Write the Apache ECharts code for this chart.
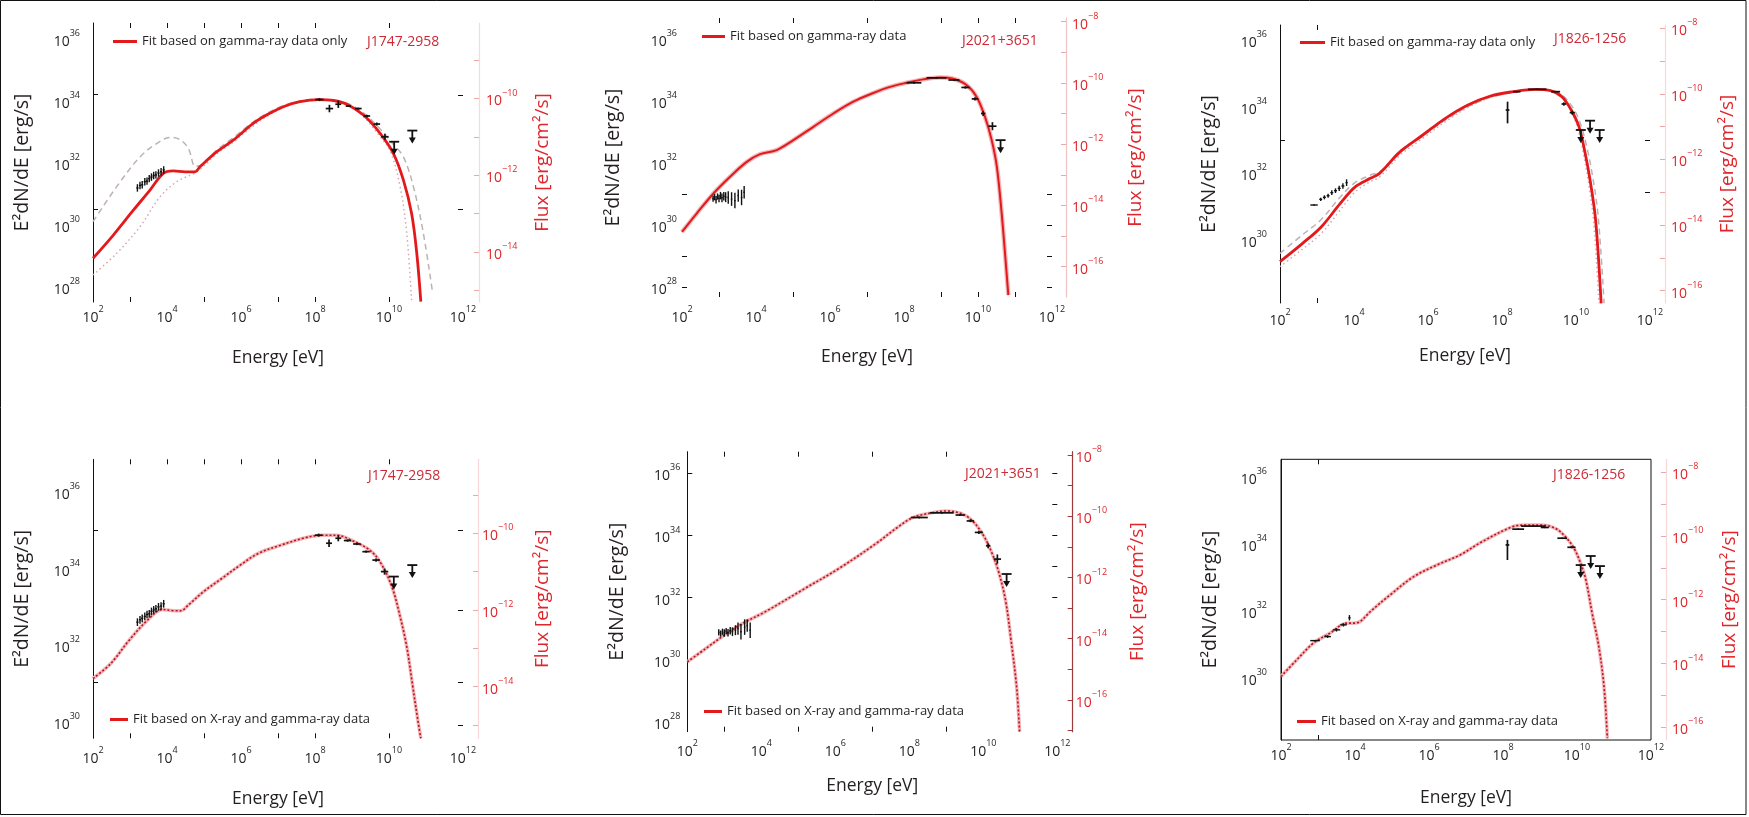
<!DOCTYPE html>
<html>
<head>
<meta charset="utf-8">
<script src="https://cdn.jsdelivr.net/npm/echarts@6/dist/echarts.min.js"></script>
<style>html,body{margin:0;padding:0;background:#fff}#c{width:1749px;height:817px}</style>
</head>
<body>
<div id="c"></div>
<script>
// ================= DATA (all values are log10 of the quantity) =================
const xTickExps = [2, 4, 6, 8, 10, 12];           // Energy [eV] tick labels 10^n
const lumTickExps = [28, 30, 32, 34, 36];        // E^2dN/dE [erg/s] tick labels 10^n
const fluxTickExps = [-16, -14, -12, -10, -8];   // Flux [erg/cm^2/s] tick labels 10^n
const sourceNames = ['J1747-2958', 'J2021+3651', 'J1826-1256', 'J1747-2958', 'J2021+3651', 'J1826-1256'];
const fitLabels = ['Fit based on gamma-ray data only', 'Fit based on gamma-ray data', 'Fit based on gamma-ray data only',
                   'Fit based on X-ray and gamma-ray data', 'Fit based on X-ray and gamma-ray data', 'Fit based on X-ray and gamma-ray data'];

// ---- Top-left: J1747-2958, gamma-ray only fit ----  [logE, logL]
const tlFit = [[2,28.93],[2.55,29.68],[3.09,30.48],[3.54,31.13],[3.9,31.67],[4.17,31.75],[4.49,31.72],[4.76,31.72],[4.89,31.88],[5.34,32.36],[5.79,32.74],[6.33,33.28],[6.69,33.55],[7.14,33.82],[7.59,33.98],[8.09,34.05],[8.5,34.02],[8.86,33.9],[9.31,33.55],[9.76,32.96],[10.12,32.31],[10.39,31.45],[10.61,30.38],[10.75,29.1],[10.86,27.53]];
const tlDash = [[2,30.11],[2.64,31.24],[3.27,32.2],[3.72,32.63],[4.08,32.83],[4.35,32.76],[4.58,32.47],[4.76,31.9],[4.89,31.92],[5.34,32.42],[5.79,32.82],[6.33,33.33],[6.69,33.6],[7.14,33.85],[7.59,34.0],[8.09,34.06],[8.86,33.93],[9.31,33.62],[9.76,33.1],[10.12,32.6],[10.39,32.2],[10.66,31.24],[10.93,29.73],[11.18,27.8]];
const tlDot = [[2,28.39],[2.64,29.09],[3.27,29.95],[3.81,30.91],[4.26,31.4],[4.8,31.72],[5.34,32.3],[5.79,32.68],[6.33,33.2],[6.69,33.5],[7.14,33.78],[7.59,33.96],[8.09,34.04],[8.86,33.88],[9.31,33.5],[9.76,32.85],[10.03,32.4],[10.3,31.24],[10.48,29.73],[10.61,27.58]];
// X-ray points [logE, logL, dlogE, dlogL]
const tlXray = [[3.2,31.2,0.03,0.12],[3.27,31.28,0.03,0.12],[3.33,31.3,0.03,0.12],[3.4,31.4,0.03,0.12],[3.46,31.42,0.03,0.12],[3.52,31.5,0.03,0.12],[3.58,31.55,0.03,0.12],[3.64,31.6,0.03,0.12],[3.7,31.62,0.03,0.12],[3.77,31.68,0.03,0.12],[3.84,31.72,0.03,0.12],[3.91,31.78,0.03,0.12]];
// gamma-ray points [logE, logL, dlogE, dlogL up, dlogL down]
const tlGamma = [[8.12,34.05,0.11,0.05,0.05],[8.39,33.76,0.1,0.12,0.12],[8.63,33.9,0.08,0.12,0.12],[8.9,33.84,0.07,0.03,0.03],[9.17,33.76,0.09,0.03,0.03],[9.4,33.52,0.09,0.04,0.04],[9.67,33.26,0.09,0.05,0.05],[9.89,32.85,0.1,0.1,0.1]];
const tlUL = [[10.14,32.69],[10.63,33.05]];   // upper limits [logE, logL]

// ---- Top-middle: J2021+3651, gamma-ray fit ----
const tmFit = [[2,29.78],[2.4,30.38],[2.85,31.02],[3.3,31.56],[3.75,32.04],[4.11,32.29],[4.56,32.42],[5.01,32.74],[5.55,33.17],[6.09,33.6],[6.63,33.98],[7.17,34.26],[7.6,34.45],[8.07,34.59],[8.52,34.7],[8.97,34.76],[9.33,34.72],[9.69,34.52],[9.96,34.14],[10.19,33.49],[10.37,32.74],[10.51,31.88],[10.64,30.38],[10.73,29.09],[10.82,27.74]];
const tmXray = [[2.84,30.85,0.02,0.1],[2.88,30.9,0.02,0.1],[2.92,30.82,0.02,0.12],[2.96,30.92,0.02,0.1],[3.0,30.86,0.02,0.12],[3.04,30.95,0.02,0.12],[3.08,30.88,0.02,0.14],[3.13,30.93,0.02,0.14],[3.18,30.9,0.02,0.16],[3.25,30.89,0.02,0.2],[3.34,30.84,0.02,0.22],[3.43,30.79,0.02,0.25],[3.52,30.95,0.02,0.2],[3.61,30.89,0.02,0.25],[3.68,31.06,0.02,0.2]];
const tmGamma = [[8.27,34.59,0.2,0.03,0.03],[8.88,34.75,0.27,0.03,0.03],[9.35,34.68,0.15,0.03,0.03],[9.66,34.44,0.11,0.04,0.04],[9.92,34.07,0.09,0.05,0.05],[10.14,33.6,0.06,0.08,0.08],[10.39,33.19,0.11,0.13,0.13]];
const tmUL = [[10.61,32.74]];

// ---- Top-right: J1826-1256, gamma-ray only fit ----
const trFit = [[2,29.35],[2.61,29.9],[3.12,30.4],[3.63,31.1],[4.04,31.6],[4.44,31.85],[4.69,32.0],[5.25,32.65],[5.86,33.15],[6.47,33.65],[7.08,34.05],[7.69,34.32],[8.3,34.45],[8.91,34.52],[9.31,34.48],[9.62,34.3],[9.87,33.9],[10.08,33.4],[10.23,32.7],[10.38,31.8],[10.53,30.6],[10.68,28.1]];
const trDash = [[2,29.6],[2.6,30.15],[3.1,30.6],[3.6,31.25],[4.0,31.7],[4.45,31.95],[4.7,32.05],[5.25,32.68],[5.86,33.12],[6.47,33.6],[7.08,34.0],[7.69,34.28],[8.3,34.43],[8.91,34.52],[9.31,34.5],[9.62,34.35],[9.9,34.0],[10.1,33.55],[10.28,32.85],[10.45,31.9],[10.6,30.7],[10.76,28.1]];
const trDot = [[2,29.2],[2.6,29.72],[3.12,30.2],[3.63,30.9],[4.04,31.45],[4.44,31.75],[4.7,31.9],[5.25,32.55],[5.86,33.05],[6.47,33.55],[7.08,33.98],[7.69,34.28],[8.3,34.44],[8.91,34.52],[9.31,34.47],[9.62,34.28],[9.87,33.86],[10.06,33.3],[10.2,32.6],[10.34,31.7],[10.48,30.5],[10.62,28.1]];
const trXray = [[2.92,31.05,0.1,0.02],[3.1,31.22,0.04,0.05],[3.2,31.28,0.04,0.06],[3.3,31.33,0.04,0.06],[3.4,31.42,0.04,0.07],[3.5,31.48,0.04,0.07],[3.6,31.55,0.04,0.08],[3.7,31.62,0.04,0.08],[3.8,31.72,0.03,0.1]];
const trGamma = [[8.15,33.9,0.05,0.25,0.4],[8.4,34.45,0.1,0.02,0.02],[8.95,34.52,0.25,0.02,0.02],[9.45,34.45,0.12,0.02,0.02],[9.67,34.08,0.06,0.05,0.05],[9.9,33.82,0.07,0.06,0.06]];
const trUL = [[10.13,33.3],[10.38,33.58],[10.64,33.3]];

// ---- Bottom-left: J1747-2958, X-ray + gamma-ray fit ----
const blFit = [[2,31.13],[2.48,31.52],[2.98,32.13],[3.48,32.66],[3.88,32.93],[4.18,32.9],[4.38,32.9],[4.58,33.05],[4.98,33.39],[5.48,33.74],[5.98,34.09],[6.48,34.4],[7.08,34.61],[7.68,34.79],[8.18,34.87],[8.58,34.87],[8.98,34.74],[9.48,34.48],[9.78,34.14],[10.08,33.52],[10.28,32.83],[10.48,31.96],[10.63,31.0],[10.78,30.04],[10.86,29.57]];
const blXray = [[3.2,32.6,0.03,0.1],[3.27,32.66,0.03,0.1],[3.33,32.7,0.03,0.1],[3.4,32.75,0.03,0.1],[3.46,32.8,0.03,0.1],[3.52,32.82,0.03,0.1],[3.58,32.88,0.03,0.1],[3.64,32.92,0.03,0.1],[3.7,32.95,0.03,0.1],[3.77,33.0,0.03,0.1],[3.84,33.02,0.03,0.1],[3.91,33.08,0.03,0.1]];
const blGamma = [[8.1,34.87,0.1,0.04,0.04],[8.38,34.66,0.08,0.1,0.1],[8.63,34.79,0.08,0.08,0.08],[8.88,34.73,0.1,0.03,0.03],[9.13,34.64,0.1,0.03,0.03],[9.38,34.44,0.1,0.03,0.03],[9.65,34.22,0.1,0.04,0.04],[9.88,33.92,0.1,0.08,0.08]];
const blUL = [[10.13,33.79],[10.63,34.09]];

// ---- Bottom-middle: J2021+3651, X-ray + gamma-ray fit ----
const bmFit = [[2,29.93],[2.5,30.36],[3.0,30.79],[3.5,31.17],[4.1,31.54],[5.1,32.24],[6.1,32.94],[7.1,33.74],[7.7,34.28],[8.1,34.58],[8.6,34.73],[9.0,34.79],[9.4,34.71],[9.7,34.48],[10.0,34.01],[10.2,33.53],[10.4,32.89],[10.6,31.92],[10.75,30.63],[10.9,29.13],[10.98,27.68]];
const bmXray = [[2.85,30.88,0.02,0.1],[2.9,30.84,0.02,0.1],[2.95,30.9,0.02,0.1],[3.0,30.86,0.02,0.12],[3.05,30.92,0.02,0.1],[3.1,30.87,0.02,0.12],[3.16,30.93,0.02,0.12],[3.22,30.9,0.02,0.14],[3.3,30.95,0.02,0.16],[3.37,31.0,0.02,0.2],[3.45,30.9,0.02,0.25],[3.55,31.05,0.02,0.25],[3.62,31.1,0.02,0.2],[3.7,30.95,0.02,0.25]];
const bmGamma = [[8.27,34.58,0.23,0.03,0.03],[8.88,34.73,0.32,0.03,0.03],[9.37,34.66,0.12,0.03,0.03],[9.65,34.47,0.1,0.04,0.04],[9.88,34.1,0.11,0.05,0.05],[10.13,33.67,0.06,0.08,0.08],[10.38,33.24,0.1,0.15,0.15]];
const bmUL = [[10.63,32.76]];

// ---- Bottom-right: J1826-1256, X-ray + gamma-ray fit ----
const brFit = [[2,30.05],[2.42,30.54],[2.87,31.04],[3.32,31.34],[3.78,31.64],[3.95,31.64],[4.14,31.69],[4.41,31.98],[4.95,32.48],[5.58,33.02],[6.21,33.37],[6.84,33.67],[7.41,34.05],[8.25,34.51],[8.61,34.56],[9.06,34.56],[9.42,34.46],[9.69,34.21],[9.92,33.87],[10.1,33.42],[10.24,32.93],[10.41,31.93],[10.59,30.94],[10.73,29.75],[10.82,28.21]];
const brXray = [[2.92,31.12,0.13,0.02],[3.26,31.24,0.09,0.04],[3.5,31.44,0.1,0.05],[3.69,31.59,0.09,0.05],[3.85,31.8,0.03,0.08]];
const brGamma = [[8.12,33.97,0.05,0.15,0.45],[8.41,34.44,0.16,0.02,0.02],[8.82,34.53,0.33,0.02,0.02],[9.13,34.49,0.11,0.02,0.02],[9.6,34.17,0.13,0.02,0.02],[9.85,33.9,0.11,0.03,0.03]];
const brUL = [[10.1,33.37],[10.37,33.64],[10.62,33.34]];

// ================= LAYOUT / STYLE (kept apart from the data) =================
const FONT = '"Open Sans", Lato, sans-serif';
const BLACK = '#231f20', RED = '#e3191c', REDTXT = '#e0252b', SRCRED = '#cc2a36';
const layout = [
  {left:93, top:23, width:370, height:279, yL:[27.52,36.52], yR:[-15.31,-8.03], rOff:16, leftLine:true, rLine:'#f8d8d8', rTick:'#e9a9ab',
   xLM:3, yLM:13, rLM:7, xNG:47, yNG:61, rNG:54, topT:[3,4,5,6,7,8,10], botT:[3,5,7,8,10], leftT:[34.23,30.52], mirT:[34.2,30.5],
   lg:{left:113, top:35, w:24}, src:{left:367, top:35}, row:'top', fit:tlFit, dash:tlDash, dot:tlDot, xr:tlXray, ga:tlGamma, ul:tlUL},
  {left:682, top:18, width:370, height:279, yL:[27.68,36.68], yR:[-16.99,-7.88], rOff:14, leftLine:false, rLine:'#efc4c4', rTick:'#e9a9ab',
   xLM:8, yLM:5, rLM:6, xNG:51, yNG:59, rNG:60, topT:[3,5,7,9,10,11], botT:[3,5,7,9,10,11], leftT:[28,29,31], mirT:[28,29,30,31],
   lg:{left:702, top:30, w:23}, src:{left:962, top:34}, row:'mid', fit:tmFit, xr:tmXray, ga:tmGamma, ul:tmUL},
  {left:1280, top:25, width:370, height:278, yL:[28.11,36.45], yR:[-16.38,-7.9], rOff:15, leftLine:true, rLine:'#f8d8d8', rTick:'#e9a9ab',
   xLM:5, yLM:13, rLM:6, xNG:44, yNG:61, rNG:53, topT:[3], botT:[3], leftT:[33.0], mirT:[33.0,31.44],
   lg:{left:1300, top:36, w:25}, src:{left:1554, top:32}, row:'top', fit:trFit, dash:trDash, dot:trDot, xr:trXray, ga:trGamma, ul:trUL},
  {left:93, top:459.3, width:370, height:279, yL:[29.57,36.85], yR:[-15.35,-8.07], rOff:15, leftLine:true, rLine:'#f8d8d8', rTick:'#e9a9ab',
   xLM:8, yLM:13, rLM:4, xNG:52, yNG:61, rNG:55, topT:[3,4,5,6,7,8,10], botT:[3,5,7,8,10], leftT:[35.0,31.02], mirT:[35.0,32.92,31.02,29.91],
   lg:{left:110, top:713, w:18}, src:{left:368, top:469}, row:'bottom', fit:blFit, xr:blXray, ga:blGamma, ul:blUL},
  {left:687.3, top:451.7, width:370, height:280, yL:[27.68,36.7], yR:[-17.04,-7.89], rOff:15.4, leftLine:true, rLine:'#9e3a3a', rTick:'#9e3a3a',
   xLM:7, yLM:7, rLM:3, xNG:45, yNG:60, rNG:55, topT:[3,5,7,9], botT:[3,5,7,9], leftT:[32,34,36], mirT:[32,33,34,35,36],
   lg:{left:704, top:705, w:18}, src:{left:965, top:467}, row:'bottom', fit:bmFit, xr:bmXray, ga:bmGamma, ul:bmUL},
  {left:1281, top:459.3, width:370, height:280.7, yL:[28.16,36.52], yR:[-16.4,-7.6], rOff:15, leftLine:true, box:true, rLine:'#f8d8d8', rTick:'#e9a9ab',
   xLM:3, yLM:14, rLM:6, xNG:49, yNG:61, rNG:54, topT:[3], botT:[3], leftT:[], mirT:[],
   lg:{left:1297, top:715, w:19}, src:{left:1553, top:468}, row:'bottom', fit:brFit, xr:brXray, ga:brGamma, ul:brUL}
];

function powFmt(allowed) {
  return function (v) {
    const e = Math.round(v);
    if (Math.abs(v - e) > 1e-6 || allowed.indexOf(e) < 0) return '';
    return '{b|10}{s|' + (e < 0 ? '\u2212' + (-e) : e) + '}';
  };
}
function richFor(color, size) {
  return {
    b: {fontSize: size, lineHeight: 20, color: color, fontFamily: FONT, verticalAlign: 'bottom'},
    s: {fontSize: Math.round(size * 0.62), lineHeight: 11, color: color, fontFamily: FONT, verticalAlign: 'top'}
  };
}
function within(list, r) { return list.filter(v => v >= r[0] && v <= r[1]); }
function decades(r) { const a = []; for (let v = Math.ceil(r[0]); v <= Math.floor(r[1]); v++) a.push(v); return a; }

function xrayRender(params, api) {
  const E = api.value(0), L = api.value(1), dE = api.value(2), dL = api.value(3);
  const l = api.coord([E - dE, L]), r = api.coord([E + dE, L]);
  const t = api.coord([E, L + dL]), b = api.coord([E, L - dL]);
  const st = {stroke: '#111', lineWidth: 1.4};
  return {type: 'group', children: [
    {type: 'line', shape: {x1: l[0], y1: l[1], x2: r[0], y2: r[1]}, style: st},
    {type: 'line', shape: {x1: t[0], y1: t[1], x2: b[0], y2: b[1]}, style: st}
  ]};
}
function gammaRender(params, api) {
  const E = api.value(0), L = api.value(1), dE = api.value(2), up = api.value(3), dn = api.value(4);
  const l = api.coord([E - dE, L]), r = api.coord([E + dE, L]);
  const t = api.coord([E, L + up]), b = api.coord([E, L - dn]);
  const st = {stroke: '#111', lineWidth: 1.7};
  return {type: 'group', children: [
    {type: 'line', shape: {x1: l[0], y1: l[1], x2: r[0], y2: r[1]}, style: st},
    {type: 'line', shape: {x1: t[0], y1: t[1], x2: b[0], y2: b[1]}, style: st}
  ]};
}
function ulRender(params, api) {
  const c = api.coord([api.value(0), api.value(1)]);
  const w = 5, len = 11;
  const st = {stroke: '#111', lineWidth: 1.8};
  return {type: 'group', children: [
    {type: 'line', shape: {x1: c[0] - w, y1: c[1], x2: c[0] + w, y2: c[1]}, style: st},
    {type: 'line', shape: {x1: c[0], y1: c[1], x2: c[0], y2: c[1] + len}, style: st},
    {type: 'polygon', shape: {points: [[c[0] - 3.5, c[1] + len - 4], [c[0] + 3.5, c[1] + len - 4], [c[0], c[1] + len + 2]]}, style: {fill: '#111'}}
  ]};
}

const option = {
  animation: false,
  backgroundColor: '#ffffff',
  textStyle: {fontFamily: FONT},
  grid: [], xAxis: [], yAxis: [], series: [], legend: [], title: [],
  graphic: [{type: 'rect', shape: {x: 0.5, y: 0.5, width: 1745.5, height: 814}, style: {fill: 'none', stroke: '#111', lineWidth: 1}, silent: true}]
};

const Y_PER_GRID = 5;   // left labels, right flux, mirror ticks, left ticks, right flux ticks
layout.forEach(function (p, i) {
  option.grid.push({left: p.left, top: p.top, width: p.width, height: p.height, containLabel: false, outerBoundsMode: 'none',
    show: !!p.box, borderColor: '#111', borderWidth: p.box ? 1 : 0, backgroundColor: 'transparent'});

  option.xAxis.push({gridIndex: i, type: 'value', min: 2, max: 12, position: 'bottom',
    axisLine: {show: false, onZero: false}, splitLine: {show: false},
    axisTick: {show: true, inside: true, length: 5, customValues: p.botT, lineStyle: {color: '#111'}},
    axisLabel: {customValues: xTickExps, formatter: powFmt(xTickExps), rich: richFor(BLACK, 14), margin: p.xLM,
      hideOverlap: false, align: 'center', verticalAlign: 'top'},
    name: 'Energy [eV]', nameLocation: 'middle', nameGap: p.xNG, nameMoveOverlap: false,
    nameTextStyle: {fontSize: 17.5, color: BLACK, fontFamily: FONT}});
  option.xAxis.push({gridIndex: i, type: 'value', min: 2, max: 12, position: 'top',
    axisLine: {show: false, onZero: false}, splitLine: {show: false}, axisLabel: {show: false},
    axisTick: {show: true, inside: true, length: 5, customValues: p.topT, lineStyle: {color: '#111'}}});

  // 0: left luminosity axis (line, labels, name)
  option.yAxis.push({gridIndex: i, type: 'value', min: p.yL[0], max: p.yL[1], position: 'left',
    axisLine: {show: p.leftLine, onZero: false, lineStyle: {color: '#111', width: 1}}, splitLine: {show: false},
    axisTick: {show: false},
    axisLabel: {customValues: within(lumTickExps, p.yL), formatter: powFmt(lumTickExps), rich: richFor(BLACK, 14), margin: p.yLM,
      hideOverlap: false, align: 'right', verticalAlign: 'middle', showMaxLabel: true, showMinLabel: true},
    name: 'E\u00b2dN/dE [erg/s]', nameLocation: 'middle', nameGap: p.yNG, nameRotate: 90, nameMoveOverlap: false,
    nameTextStyle: {fontSize: 19.5, color: BLACK, fontFamily: FONT}});
  // 1: right flux axis (line, labels, name)
  option.yAxis.push({gridIndex: i, type: 'value', min: p.yR[0], max: p.yR[1], position: 'right', offset: p.rOff,
    axisLine: {show: true, onZero: false, lineStyle: {color: p.rLine, width: 1.2}}, splitLine: {show: false},
    axisTick: {show: false},
    axisLabel: {customValues: within(fluxTickExps, p.yR), formatter: powFmt(fluxTickExps), rich: richFor(REDTXT, 14), margin: p.rLM,
      hideOverlap: false, align: 'left', verticalAlign: 'middle', showMaxLabel: true, showMinLabel: true},
    name: 'Flux [erg/cm\u00b2/s]', nameLocation: 'middle', nameGap: p.rNG, nameRotate: 90, nameMoveOverlap: false,
    nameTextStyle: {fontSize: 19, color: REDTXT, fontFamily: FONT}});
  // 2: mirrored luminosity ticks on the right edge of the frame
  option.yAxis.push({gridIndex: i, type: 'value', min: p.yL[0], max: p.yL[1], position: 'right', offset: 0,
    axisLine: {show: false, onZero: false}, splitLine: {show: false}, axisLabel: {show: false},
    axisTick: {show: p.mirT.length > 0, inside: true, length: 5, customValues: p.mirT, lineStyle: {color: '#111'}}});
  // 3: luminosity ticks on the left edge
  option.yAxis.push({gridIndex: i, type: 'value', min: p.yL[0], max: p.yL[1], position: 'left', offset: 0,
    axisLine: {show: false, onZero: false}, splitLine: {show: false}, axisLabel: {show: false},
    axisTick: {show: p.leftT.length > 0, inside: true, length: 5, customValues: p.leftT, lineStyle: {color: '#111'}}});
  // 4: flux ticks (every decade)
  option.yAxis.push({gridIndex: i, type: 'value', min: p.yR[0], max: p.yR[1], position: 'right', offset: p.rOff,
    axisLine: {show: false, onZero: false}, splitLine: {show: false}, axisLabel: {show: false},
    axisTick: {show: true, inside: true, length: 5, customValues: decades(p.yR), lineStyle: {color: p.rTick}}});

  const xi = 2 * i, yi = Y_PER_GRID * i;
  const base = {xAxisIndex: xi, yAxisIndex: yi, showSymbol: false, symbol: 'none', smooth: 0.35, silent: true};
  if (p.row === 'top') {
    option.series.push(Object.assign({type: 'line', name: 'model-dashed-' + i, data: p.dash, z: 2,
      lineStyle: {type: [6, 4], color: '#bcb2b3', width: 1.5}}, base));
    option.series.push(Object.assign({type: 'line', name: 'model-dotted-' + i, data: p.dot, z: 2,
      lineStyle: {type: [1.5, 3], color: '#d6a6b0', width: 1.5}}, base));
    option.series.push(Object.assign({type: 'line', name: fitLabels[i], data: p.fit, z: 4,
      lineStyle: {color: RED, width: 2.8}}, base));
  } else if (p.row === 'mid') {
    option.series.push(Object.assign({type: 'line', name: 'model-halo-' + i, data: p.fit, z: 2,
      lineStyle: {color: '#f2b9bb', width: 4.5}}, base));
    option.series.push(Object.assign({type: 'line', name: fitLabels[i], data: p.fit, z: 4,
      lineStyle: {color: RED, width: 2}}, base));
  } else {
    option.series.push(Object.assign({type: 'line', name: 'model-halo-' + i, data: p.fit, z: 2,
      lineStyle: {color: '#f2b4b7', width: 3.5}}, base));
    option.series.push(Object.assign({type: 'line', name: fitLabels[i], data: p.fit, z: 4,
      lineStyle: {color: '#b8141d', width: 1.6, type: [2, 2]}}, base));
  }
  option.series.push({type: 'custom', name: 'xray-' + i, coordinateSystem: 'cartesian2d', xAxisIndex: xi, yAxisIndex: yi,
    renderItem: xrayRender, data: p.xr, encode: {x: 0, y: 1}, z: 6, silent: true});
  option.series.push({type: 'custom', name: 'gamma-' + i, coordinateSystem: 'cartesian2d', xAxisIndex: xi, yAxisIndex: yi,
    renderItem: gammaRender, data: p.ga, encode: {x: 0, y: 1}, z: 6, silent: true});
  option.series.push({type: 'custom', name: 'ul-' + i, coordinateSystem: 'cartesian2d', xAxisIndex: xi, yAxisIndex: yi,
    renderItem: ulRender, data: p.ul, encode: {x: 0, y: 1}, z: 6, silent: true});

  const lgText = {fontSize: 13, color: BLACK, fontFamily: FONT};
  option.legend.push({left: p.lg.left, top: p.lg.top, padding: 0, selectedMode: false, orient: 'horizontal',
    itemWidth: p.lg.w, itemHeight: 3,
    data: [{name: fitLabels[i], icon: 'rect', itemStyle: {color: RED}, textStyle: lgText}],
    textStyle: lgText});
  option.title.push({text: sourceNames[i], left: p.src.left, top: p.src.top, padding: 0,
    textStyle: {fontSize: 14, fontWeight: 'normal', color: SRCRED, fontFamily: FONT}});
});

const chart = echarts.init(document.getElementById('c'), null, {renderer: 'canvas'});
chart.setOption(option);
</script>
</body>
</html>
